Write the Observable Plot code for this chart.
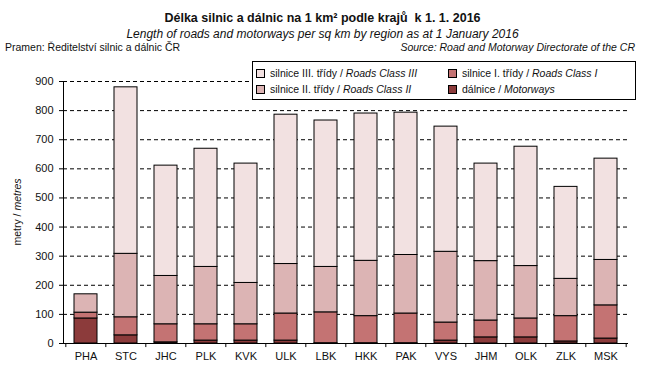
<!DOCTYPE html>
<html>
<head>
<meta charset="utf-8">
<script src="https://cdn.jsdelivr.net/npm/d3@7"></script>
<script src="https://cdn.jsdelivr.net/npm/@observablehq/plot@0.6"></script>
<style>
  body { margin: 0; background: #fff; font-family: "Liberation Sans", Arial, sans-serif; color: #111; }
  #wrap { position: relative; width: 645px; height: 377px; }
  #header { position: relative; width: 645px; height: 56px; }
  .abs { position: absolute; white-space: nowrap; }
  #title { left: 0; width: 645px; text-align: center; top: 11px; font-weight: bold; font-size: 12.5px; }
  #subtitle { left: 0; width: 645px; text-align: center; top: 27px; font-style: italic; font-size: 12px; }
  #srcL { left: 5px; top: 41px; font-size: 10.5px; }
  #srcR { right: 10px; top: 41px; font-size: 10.5px; font-style: italic; }
  #ylab { left: 17px; top: 212px; font-size: 10.5px; transform: translate(-50%, -50%) rotate(-90deg); }
  #legend { left: 252px; top: 61px; width: 382px; height: 37px; border: 1px solid #000; background: #fff; font-size: 10.5px; }
  .item { position: absolute; display: flex; align-items: center; height: 12px; }
  .sw { width: 7px; height: 7px; border: 1px solid #000; margin-right: 5px; }
</style>
</head>
<body>
<div id="wrap">
  <div id="header">
    <div id="title" class="abs">Délka silnic a dálnic na 1 km² podle krajů&nbsp; k 1. 1. 2016</div>
    <div id="subtitle" class="abs">Length of roads and motorways per sq km by region as at 1 January 2016</div>
    <div id="srcL" class="abs">Pramen: Ředitelství silnic a dálnic ČR</div>
    <div id="srcR" class="abs">Source: Road and Motorway Directorate of the CR</div>
  </div>
  <div id="chart"></div>
  <div id="ylab" class="abs">metry / <i>metres</i></div>
  <div id="legend" class="abs"></div>
</div>
<script>
const categories = ["PHA","STC","JHC","PLK","KVK","ULK","LBK","HKK","PAK","VYS","JHM","OLK","ZLK","MSK"];
const motorways = [86, 28, 4, 10, 10, 10, 1, 1, 1, 10, 21, 21, 7, 17];
const roadsClass1 = [20, 62, 62, 56, 56, 93, 106, 93, 102, 62, 58, 65, 87, 114];
const roadsClass2 = [63, 218, 166, 197, 142, 170, 156, 190, 201, 243, 204, 180, 128, 156];
const roadsClass3 = [0, 572, 379, 406, 410, 513, 503, 506, 489, 430, 335, 410, 316, 348];
const seriesNames = ["dálnice / Motorways", "silnice I. třídy / Roads Class I", "silnice II. třídy / Roads Class II", "silnice III. třídy / Roads Class III"];
const seriesCz = ["dálnice / ", "silnice I. třídy / ", "silnice II. třídy / ", "silnice III. třídy / "];
const seriesEn = ["Motorways", "Roads Class I", "Roads Class II", "Roads Class III"];
const seriesColors = ["#8c3b3b", "#c47373", "#dcb4b4", "#f2e1e1"];
const yTicks = [0, 100, 200, 300, 400, 500, 600, 700, 800, 900];

const seriesValues = [motorways, roadsClass1, roadsClass2, roadsClass3];
const rows = [];
categories.forEach((c, i) => {
  seriesNames.forEach((s, j) => rows.push({region: c, series: s, value: seriesValues[j][i]}));
});

const W = 645, H = 321, ML = 63, MR = 17, MT = 25, MB = 34;
const step = (W - ML - MR) / categories.length;

const chart = Plot.plot({
  width: W, height: H,
  marginLeft: ML, marginRight: MR, marginTop: MT, marginBottom: MB,
  style: {fontFamily: "'Liberation Sans', Arial, sans-serif", fontSize: "11px", color: "#111", background: "white"},
  x: {domain: categories, paddingInner: 0.43, paddingOuter: 0.215, axis: null},
  y: {domain: [0, 900], axis: null},
  color: {domain: seriesNames, range: seriesColors},
  marks: [
    Plot.ruleY(yTicks.filter(d => d > 0), {stroke: "black", strokeWidth: 1, strokeDasharray: "4,3"}),
    Plot.barY(rows, {x: "region", y: "value", fill: "series", stroke: "black", strokeWidth: 1}),
    Plot.ruleY([0], {stroke: "black", strokeWidth: 1}),
    Plot.axisY({ticks: yTicks, tickSize: 4, tickPadding: 6, fontSize: 11, label: null, stroke: "black"}),
    Plot.frame({anchor: "left", stroke: "black"}),
    Plot.axisX({tickSize: 0, tickPadding: 9, fontSize: 11, label: null}),
    Plot.ruleX(categories, {x: d => d, y1: 0, y2: -14, dx: -step / 2, stroke: "black"}),
    Plot.ruleX(categories.slice(-1), {x: d => d, y1: 0, y2: -14, dx: step / 2, stroke: "black"})
  ]
});
document.getElementById("chart").appendChild(chart);

// legend (HTML, overlaid on the plot as in the reference)
const legend = document.getElementById("legend");
const order = [3, 1, 2, 0];
const pos = [[3, 5], [195, 5], [3, 21], [195, 21]];
order.forEach((j, k) => {
  const it = document.createElement("div");
  it.className = "item";
  it.style.left = pos[k][0] + "px";
  it.style.top = pos[k][1] + "px";
  it.innerHTML = `<div class="sw" style="background:${seriesColors[j]}"></div><span>${seriesCz[j]}<i>${seriesEn[j]}</i></span>`;
  legend.appendChild(it);
});
</script>
</body>
</html>
